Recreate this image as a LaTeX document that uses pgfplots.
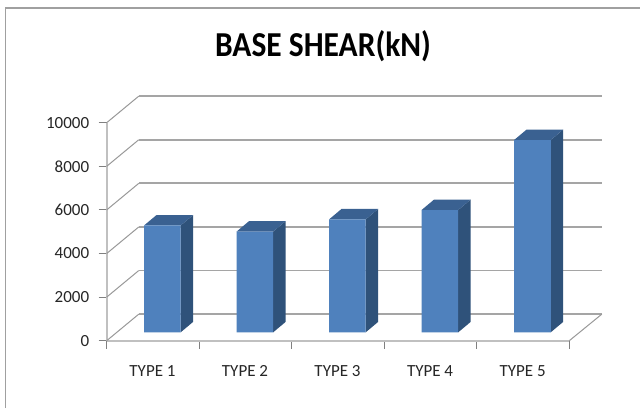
\documentclass[border=0pt]{standalone}
\usepackage{fontspec}
\setmainfont{Carlito}
\usepackage{pgfplots}
\pgfplotsset{compat=1.18}
\definecolor{barfront}{RGB}{79,129,189}
\definecolor{barside}{RGB}{47,82,122}
\definecolor{bartop}{RGB}{58,97,145}
\definecolor{wallgrey}{RGB}{165,165,165}
\definecolor{framegrey}{RGB}{160,160,160}

% one picture unit = one pixel of the reference
\pgfplotsset{
  chartbase/.style={
    scale only axis,
    width=462.6pt, height=218pt,
    anchor=south west,
    xmin=0, xmax=5,
    ymin=0, ymax=10000,
    clip=false,
  },
}

\begin{document}
\begin{tikzpicture}[x=1pt,y=1pt]
\path[use as bounding box] (0,0) rectangle (640,408);
\fill[white] (0,0) rectangle (640,408);
\draw[framegrey, line width=1.6pt] (5.5,0) -- (5.5,400) -- (640,400);

\node[font=\fontsize{35}{35}\selectfont\bfseries, text=black] at (323,362) {\scalebox{0.9}[1]{BASE SHEAR(kN)}};

% walls and floor
\begin{axis}[
  chartbase,
  at={(106.7pt,67.3pt)},
  axis lines*=left,
  axis line style={wallgrey!70, line width=2.2pt, -},
  tick style={gray, line width=1pt},
  major tick length=8pt,
  tick align=outside,
  xtick={0,1,2,3,4,5},
  xticklabels={},
  ytick={0,2000,4000,6000,8000,10000},
  scaled y ticks=false,
  yticklabel style={font=\fontsize{17}{17}\selectfont, text=black!85},
  /pgf/number format/assume math mode=true,
  /pgf/number format/1000 sep={},
  yticklabel shift=6pt,
]
% back wall grid
\addplot[wallgrey, line width=1.8pt] coordinates {(0.346,1216) (5.351,1216)};
\addplot[wallgrey, line width=1.8pt] coordinates {(0.346,3216) (5.351,3216)};
\addplot[wallgrey, line width=1.8pt] coordinates {(0.346,5216) (5.351,5216)};
\addplot[wallgrey, line width=1.8pt] coordinates {(0.346,7216) (5.351,7216)};
\addplot[wallgrey, line width=1.8pt] coordinates {(0.346,9216) (5.351,9216)};
\addplot[wallgrey, line width=1.8pt] coordinates {(0.346,11216) (5.351,11216)};
% side wall grid
\addplot[gray!80, line width=1pt] coordinates {(0,0) (0.346,1216)};
\addplot[gray!80, line width=1pt] coordinates {(0,2000) (0.346,3216)};
\addplot[gray!80, line width=1pt] coordinates {(0,4000) (0.346,5216)};
\addplot[gray!80, line width=1pt] coordinates {(0,6000) (0.346,7216)};
\addplot[gray!80, line width=1pt] coordinates {(0,8000) (0.346,9216)};
\addplot[gray!80, line width=1pt] coordinates {(0,10000) (0.346,11216)};
% floor right edge
\addplot[gray!80, line width=1pt] coordinates {(5,0) (5.351,1216)};
% category names
\node[font=\fontsize{17}{17}\selectfont, text=black!85] at (axis cs:0.495,-1410) {TYPE 1};
\node[font=\fontsize{17}{17}\selectfont, text=black!85] at (axis cs:1.495,-1410) {TYPE 2};
\node[font=\fontsize{17}{17}\selectfont, text=black!85] at (axis cs:2.495,-1410) {TYPE 3};
\node[font=\fontsize{17}{17}\selectfont, text=black!85] at (axis cs:3.495,-1410) {TYPE 4};
\node[font=\fontsize{17}{17}\selectfont, text=black!85] at (axis cs:4.495,-1410) {TYPE 5};
\end{axis}

% bars, on a plane set back from the front edge of the floor
\begin{axis}[
  chartbase,
  at={(116.1pt,75.7pt)},
  hide axis,
]
% side faces
\addplot[fill=barside, draw=none] coordinates {(0.698,0) (0.833,480) (0.833,5380) (0.698,4900)} -- cycle;
\addplot[fill=barside, draw=none] coordinates {(1.698,0) (1.833,480) (1.833,5100) (1.698,4620)} -- cycle;
\addplot[fill=barside, draw=none] coordinates {(2.698,0) (2.833,480) (2.833,5660) (2.698,5180)} -- cycle;
\addplot[fill=barside, draw=none] coordinates {(3.698,0) (3.833,480) (3.833,6090) (3.698,5610)} -- cycle;
\addplot[fill=barside, draw=none] coordinates {(4.698,0) (4.833,480) (4.833,9300) (4.698,8820)} -- cycle;
% top faces
\addplot[fill=bartop, draw=none] coordinates {(0.302,4900) (0.437,5380) (0.833,5380) (0.698,4900)} -- cycle;
\addplot[fill=bartop, draw=none] coordinates {(1.302,4620) (1.437,5100) (1.833,5100) (1.698,4620)} -- cycle;
\addplot[fill=bartop, draw=none] coordinates {(2.302,5180) (2.437,5660) (2.833,5660) (2.698,5180)} -- cycle;
\addplot[fill=bartop, draw=none] coordinates {(3.302,5610) (3.437,6090) (3.833,6090) (3.698,5610)} -- cycle;
\addplot[fill=bartop, draw=none] coordinates {(4.302,8820) (4.437,9300) (4.833,9300) (4.698,8820)} -- cycle;
% front faces
\addplot[ybar, bar width=0.396, bar shift=0pt, fill=barfront, draw=none]
  coordinates {(0.5,4900) (1.5,4620) (2.5,5180) (3.5,5610) (4.5,8820)};
\end{axis}
\end{tikzpicture}
\end{document}
